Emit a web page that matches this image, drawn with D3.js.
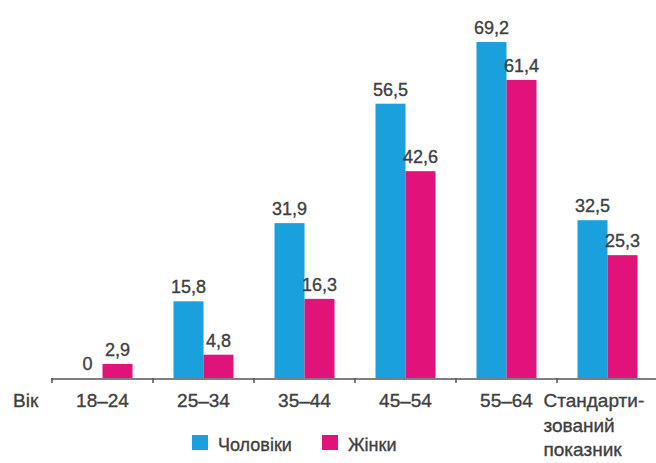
<!DOCTYPE html>
<html>
<head>
<meta charset="utf-8">
<script src="https://cdn.jsdelivr.net/npm/d3@7/dist/d3.min.js"></script>
<style>
  html, body { margin: 0; padding: 0; background: #fff; }
  svg { display: block; }
  text { font-family: "Liberation Sans", Arial, sans-serif; fill: #404040; stroke: #404040; stroke-width: 0.35px; }
</style>
</head>
<body>
<svg id="chart" width="656" height="463"></svg>
<script>
// Age groups (last one is the age-standardised rate, split over three lines)
const categories = ["18–24", "25–34", "35–44", "45–54", "55–64", "std"];
const categoryLines = {
  "18–24": ["18–24"], "25–34": ["25–34"], "35–44": ["35–44"],
  "45–54": ["45–54"], "55–64": ["55–64"],
  "std": ["Стандарти-", "зований", "показник"]
};
const seriesNames = ["Чоловіки", "Жінки"];
const menValues = [0, 15.8, 31.9, 56.5, 69.2, 32.5];
const womenValues = [2.9, 4.8, 16.3, 42.6, 61.4, 25.3];
const axisTitle = "Вік";

const colors = { "Чоловіки": "#19a0dd", "Жінки": "#e2127b" };

const rows = categories.map((c, i) => ({
  cat: c,
  values: [
    { key: seriesNames[0], value: menValues[i] },
    { key: seriesNames[1], value: womenValues[i] }
  ]
}));

const svg = d3.select("#chart");
const baseY = 378;

const x = d3.scaleBand().domain(categories).range([52, 658]).paddingInner(0).paddingOuter(0);
const pairW = 60;
const x1 = d3.scaleBand().domain(seriesNames).range([0, pairW]).padding(0);
const y = d3.scaleLinear().domain([0, 70]).range([baseY, baseY - 70 * 4.855]);
const fmt = v => String(v).replace(".", ",");

// Bars
const groups = svg.append("g").selectAll("g").data(rows).join("g")
  .attr("transform", d => `translate(${x(d.cat) + (x.bandwidth() - pairW) / 2},0)`);

groups.selectAll("rect").data(d => d.values).join("rect")
  .attr("x", d => x1(d.key))
  .attr("y", d => y(d.value))
  .attr("width", x1.bandwidth())
  .attr("height", d => y(0) - y(d.value))
  .attr("fill", d => colors[d.key]);

// Value labels
groups.selectAll("text.val").data(d => d.values).join("text")
  .attr("class", "val")
  .attr("x", d => x1(d.key) + x1.bandwidth() / 2)
  .attr("y", d => y(d.value) - 8)
  .attr("text-anchor", "middle")
  .style("font-size", "18px")
  .text(d => fmt(d.value));

// Category axis
const axisG = svg.append("g").attr("transform", `translate(0,${baseY + 1})`)
  .call(d3.axisBottom(x).tickSize(0).tickFormat(""));
axisG.select(".domain").remove();
axisG.append("line")
  .attr("x1", 51).attr("x2", 656).attr("y1", 0).attr("y2", 0)
  .attr("stroke", "#555").attr("stroke-width", 1.5);

// Boundary ticks between groups
const bounds = [x.range()[0]].concat(categories.slice(1).map(c => x(c)));
axisG.selectAll("line.bound").data(bounds).join("line")
  .attr("class", "bound")
  .attr("x1", d => d).attr("x2", d => d)
  .attr("y1", -1).attr("y2", 4)
  .attr("stroke", "#555").attr("stroke-width", 1.5);

axisG.selectAll(".tick").each(function (c) {
  const lines = categoryLines[c];
  const t = d3.select(this).append("text")
    .style("font-size", "19px")
    .attr("text-anchor", lines.length > 1 ? "start" : "middle")
    .attr("x", lines.length > 1 ? -64 : 0)
    .attr("y", 28);
  lines.forEach((ln, i) => {
    t.append("tspan").attr("x", lines.length > 1 ? -64 : 0)
      .attr("dy", i === 0 ? 0 : 24.5).text(ln);
  });
});

svg.append("text")
  .attr("x", 13).attr("y", baseY + 29)
  .style("font-size", "19px")
  .text(axisTitle);

// Legend
const legend = svg.append("g").attr("transform", "translate(192,435)");
const legendX = [0, 130];
seriesNames.forEach((s, i) => {
  const g = legend.append("g").attr("transform", `translate(${legendX[i]},0)`);
  g.append("rect").attr("width", 16).attr("height", 15).attr("fill", colors[s]).attr("stroke", "none");
  g.append("text").attr("x", 26).attr("y", 16).style("font-size", "18px").text(s);
});
</script>
</body>
</html>
